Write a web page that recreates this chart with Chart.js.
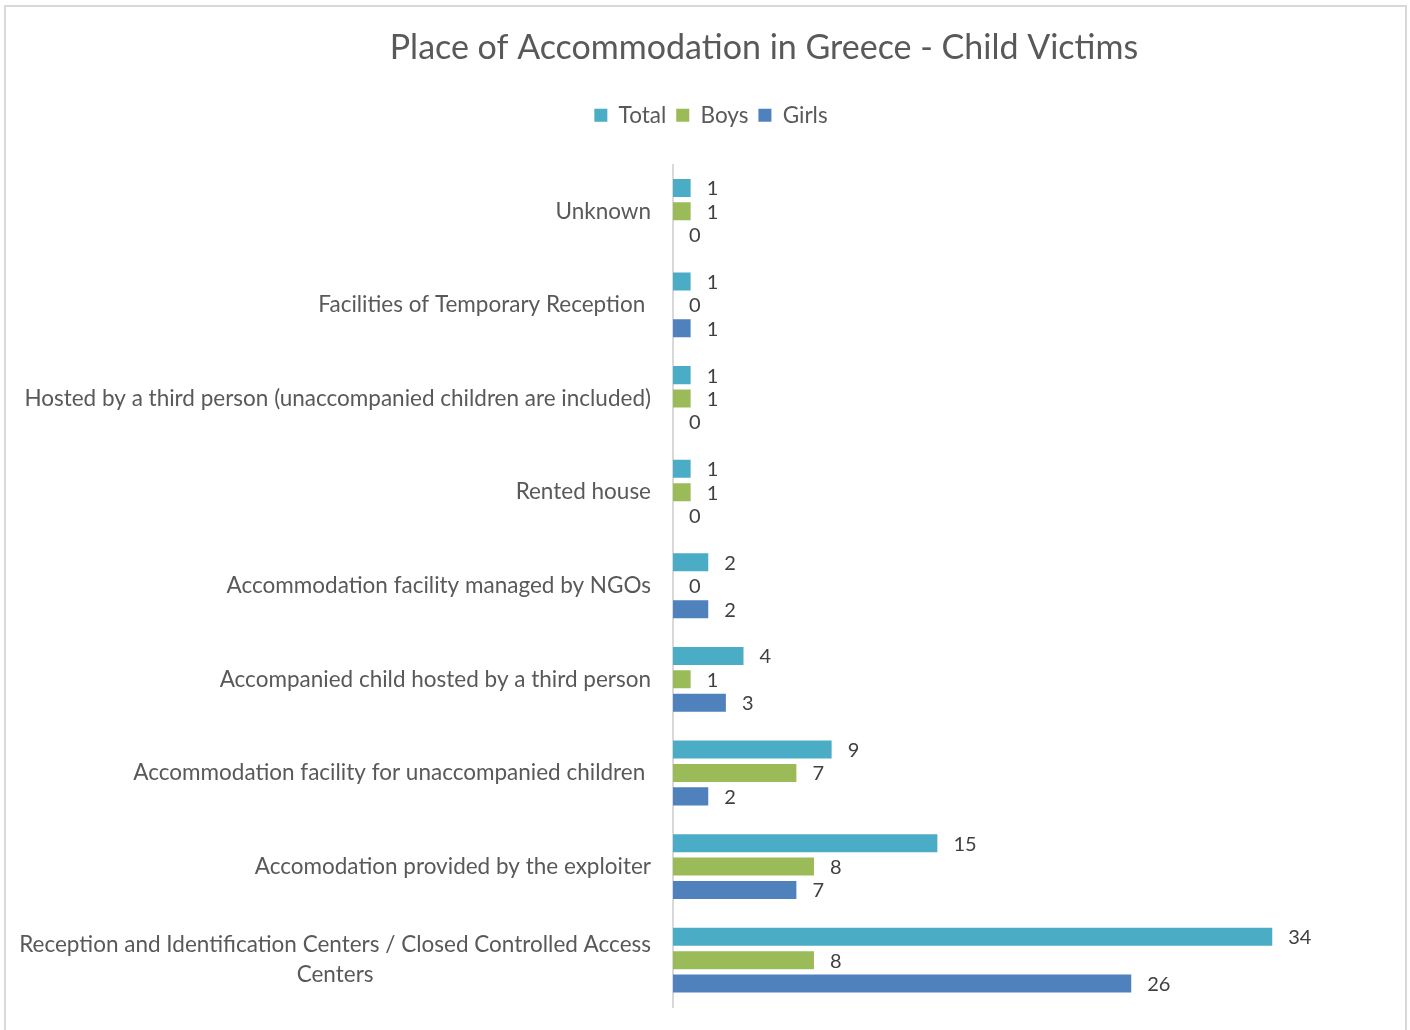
<!DOCTYPE html>
<html>
<head>
<meta charset="utf-8">
<script src="https://cdn.jsdelivr.net/npm/chart.js@4.4.1/dist/chart.umd.min.js"></script>
<style>
    html, body { margin: 0; padding: 0; background: #fff; overflow: hidden; }
    #wrap { position: relative; width: 1410px; height: 1030px; }
    #frame { position: absolute; left: 4px; top: 5px; width: 1403px; height: 1040px; border: 2px solid #d9d9d9; box-sizing: border-box; }
    canvas { position: absolute; left: 0; top: 0; }
</style>
</head>
<body>
<div id="wrap">
    <div id="frame"></div>
    <canvas id="chart" width="1410" height="1030"></canvas>
</div>
<script>
const chartTitle = 'Place of Accommodation in Greece - Child Victims';
const categories = [
    'Unknown',
    'Facilities of Temporary Reception ',
    'Hosted by a third person (unaccompanied children are included)',
    'Rented house',
    'Accommodation facility managed by NGOs',
    'Accompanied child hosted by a third person',
    'Accommodation facility for unaccompanied children ',
    'Accomodation provided by the exploiter',
    ['Reception and Identification Centers / Closed Controlled Access', 'Centers']
];
const totalValues = [1, 1, 1, 1, 2, 4, 9, 15, 34];
const boysValues = [1, 0, 1, 1, 0, 1, 7, 8, 8];
const girlsValues = [0, 1, 0, 0, 2, 3, 2, 7, 26];

const FONT = 'Lato, "Open Sans", sans-serif';

// title is drawn by hand, Excel put it a bit right of centre
const titlePlugin = {
    id: 'titlePlugin',
    afterDraw(chart) {
        const ctx = chart.ctx;
        ctx.save();
        ctx.font = '34px ' + FONT;
        ctx.fillStyle = '#595959';
        ctx.textAlign = 'center';
        ctx.textBaseline = 'middle';
        ctx.fillText(chartTitle, 764, 48);
        ctx.restore();
    }
};

// value labels to the right of each bar
const valueLabels = {
    id: 'valueLabels',
    afterDatasetsDraw(chart) {
        const ctx = chart.ctx;
        ctx.save();
        ctx.font = '20px ' + FONT;
        ctx.fillStyle = '#404040';
        ctx.textAlign = 'left';
        ctx.textBaseline = 'middle';
        chart.data.datasets.forEach((ds, i) => {
            chart.getDatasetMeta(i).data.forEach((bar, j) => {
                ctx.fillText(String(ds.data[j]), bar.x + 16, bar.y + 1);
            });
        });
        ctx.restore();
    }
};

// category labels, right aligned block, lines centred inside the block
const categoryLabels = {
    id: 'categoryLabels',
    afterDraw(chart) {
        const ctx = chart.ctx;
        const yScale = chart.scales.y;
        const right = chart.chartArea.left - 22;
        ctx.save();
        ctx.font = '22.5px ' + FONT;
        ctx.fillStyle = '#595959';
        ctx.textAlign = 'center';
        ctx.textBaseline = 'middle';
        categories.forEach((label, i) => {
            const lines = Array.isArray(label) ? label : [label];
            const w = Math.max(...lines.map(l => ctx.measureText(l).width));
            const cy = yScale.getPixelForTick(i);
            lines.forEach((line, k) => {
                ctx.fillText(line, right - w / 2, cy + (k - (lines.length - 1) / 2) * 30);
            });
        });
        ctx.restore();
    }
};

const legendSpace = {
    id: 'legendSpace',
    beforeInit(chart) {
        const fit = chart.legend.fit;
        chart.legend.fit = function () {
            fit.bind(chart.legend)();
            this.height += 28;
        };
    }
};

new Chart(document.getElementById('chart').getContext('2d'), {
    type: 'bar',
    data: {
        labels: categories,
        datasets: [
            { label: 'Total', data: totalValues, backgroundColor: '#4BACC6' },
            { label: 'Boys', data: boysValues, backgroundColor: '#9BBB59' },
            { label: 'Girls', data: girlsValues, backgroundColor: '#4F81BD' }
        ]
    },
    options: {
        indexAxis: 'y',
        responsive: false,
        animation: false,
        categoryPercentage: 0.75,
        barPercentage: 0.77,
        layout: { padding: { left: 44, right: 32, top: 94, bottom: 23 } },
        plugins: {
            title: { display: false },
            legend: {
                position: 'top',
                labels: {
                    color: '#595959',
                    font: { family: FONT, size: 22.5 },
                    boxWidth: 13,
                    boxHeight: 13,
                    padding: 10
                }
            },
            tooltip: { enabled: false }
        },
        scales: {
            x: {
                display: false,
                min: 0,
                max: 40
            },
            y: {
                ticks: { display: false },
                grid: { display: false },
                border: { display: true, color: '#d9d9d9', width: 2 },
                afterFit: scale => { scale.width = 629; }
            }
        }
    },
    plugins: [titlePlugin, valueLabels, categoryLabels, legendSpace]
});
</script>
</body>
</html>
